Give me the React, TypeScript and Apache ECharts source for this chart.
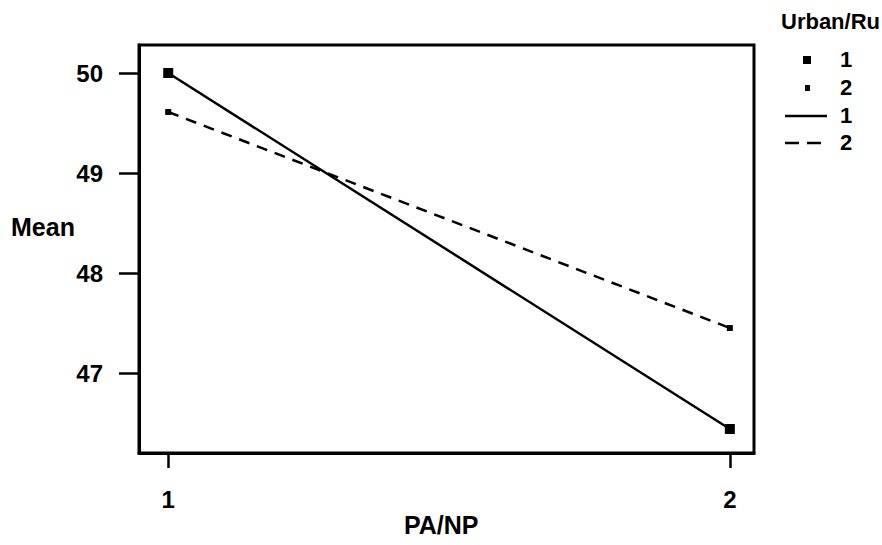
import React, { useEffect, useRef } from "react";
import * as echarts from "echarts";

const xCategories = [1, 2];
const urban1Means = [50.0, 46.44];
const urban2Means = [49.61, 47.45];
const yTicks = [47, 48, 49, 50];
const legendTitle = "Urban/Ru";
const legendLabels = ["1", "2", "1", "2"];
const xTitle = "PA/NP";
const yTitle = "Mean";

const FONT = "Liberation Sans";

export default function App() {
  const ref = useRef<HTMLDivElement>(null);
  useEffect(() => {
    if (!ref.current) return;
    const chart = echarts.init(ref.current, null, { renderer: "svg" });
    const txt = { fontFamily: FONT, fontWeight: "bold", fontSize: 24, color: "#000" };
    chart.setOption({
      animation: false,
      backgroundColor: "#fff",
      grid: {
        left: 139,
        top: 45,
        width: 615,
        height: 408,
        show: true,
        borderColor: "#000",
        borderWidth: 3,
        backgroundColor: "transparent",
      },
      xAxis: {
        type: "value",
        min: 0.948,
        max: 2.043,
        axisLine: { show: true, lineStyle: { color: "#000", width: 3 } },
        axisTick: { show: true, length: 15, lineStyle: { color: "#000", width: 2.5 }, customValues: xCategories },
        axisLabel: { ...txt, margin: 34, customValues: xCategories, formatter: (v: number) => String(v) },
        splitLine: { show: false },
      },
      yAxis: {
        type: "value",
        min: 46.2,
        max: 50.28,
        axisLine: { show: true, lineStyle: { color: "#000", width: 3 } },
        axisTick: { show: true, length: 20, lineStyle: { color: "#000", width: 2.5 }, customValues: yTicks },
        axisLabel: { ...txt, margin: 36, customValues: yTicks, formatter: (v: number) => String(v) },
        splitLine: { show: false },
      },
      series: [
        {
          name: "1",
          type: "line",
          data: xCategories.map((x, i) => [x, urban1Means[i]]),
          symbol: "rect",
          symbolSize: 10,
          itemStyle: { color: "#000" },
          lineStyle: { color: "#000", width: 2.5 },
        },
        {
          name: "2",
          type: "line",
          data: xCategories.map((x, i) => [x, urban2Means[i]]),
          symbol: "rect",
          symbolSize: 6,
          itemStyle: { color: "#000" },
          lineStyle: { color: "#000", width: 2.5, type: [11, 8] },
        },
      ],
      graphic: [
        { type: "text", left: 11, top: 214, style: { text: yTitle, font: `bold 25px ${FONT}`, fill: "#000" } },
        { type: "text", left: 404, top: 512, style: { text: xTitle, font: `bold 25px ${FONT}`, fill: "#000" } },
        { type: "text", left: 781, top: 10, style: { text: legendTitle, font: `bold 22px ${FONT}`, fill: "#000" } },
        { type: "rect", shape: { x: 803, y: 56, width: 8, height: 8 }, style: { fill: "#000" } },
        { type: "rect", shape: { x: 805, y: 85, width: 5, height: 6 }, style: { fill: "#000" } },
        { type: "line", shape: { x1: 785, y1: 116, x2: 827, y2: 116 }, style: { stroke: "#000", lineWidth: 2.5 } },
        { type: "line", shape: { x1: 785, y1: 143, x2: 827, y2: 143 }, style: { stroke: "#000", lineWidth: 2.5, lineDash: [14, 8] } },
        ...legendLabels.map((t, i) => ({
          type: "text",
          left: 840,
          top: [60, 88, 116, 143][i] - 12,
          style: { text: t, font: `bold 22px ${FONT}`, fill: "#000" },
        })),
      ],
    });
    return () => chart.dispose();
  }, []);
  return <div ref={ref} style={{ position: "fixed", left: 0, top: 0, width: 882, height: 545 }} />;
}
